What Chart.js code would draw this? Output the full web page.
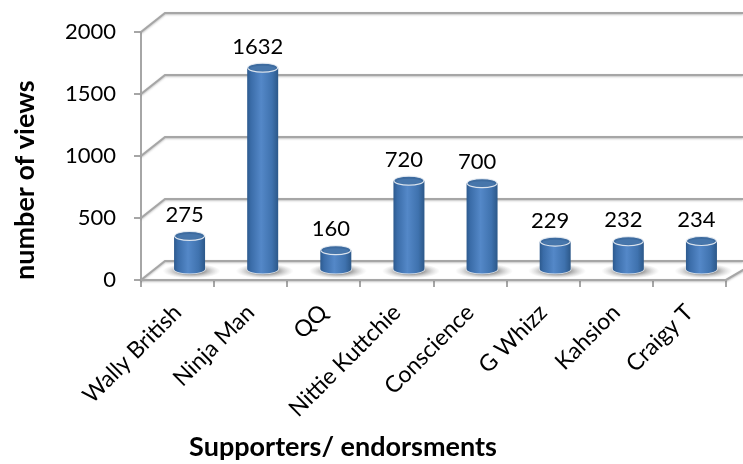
<!DOCTYPE html>
<html><head><meta charset="utf-8">
<style>html,body{margin:0;padding:0;background:#fff;overflow:hidden}canvas{display:block}</style>
<script src="https://cdn.jsdelivr.net/npm/chart.js@4"></script></head>
<body><canvas id="c" width="743" height="464"></canvas>
<script>
const categories = ["Wally British","Ninja Man","QQ","Nittie Kuttchie","Conscience","G Whizz","Kahsion","Craigy T"];
const views = [275,1632,160,720,700,229,232,234];
const yTicks = [0,500,1000,1500,2000];
const yTitle = "number of views";
const xTitle = "Supporters/ endorsments";
const FONT = "Lato, Carlito, sans-serif";
const DX = 24, DY = 19, GRID = "#a6a6a6", RX = 15.5, RY = 4.5;

function barGradient(ctx, cx){
  const g = ctx.createLinearGradient(cx-RX,0,cx+RX,0);
  g.addColorStop(0,"#2d5a8e");g.addColorStop(.12,"#3a6ca8");g.addColorStop(.45,"#5488c8");
  g.addColorStop(.8,"#3f72ae");g.addColorStop(1,"#2c5889");
  return g;
}
const wall3d = {
  id:"wall3d",
  beforeDatasetsDraw(chart){
    const {ctx,scales:{x,y},chartArea:a}=chart;
    ctx.save();
    ctx.strokeStyle=GRID;ctx.lineWidth=2.2;
    ctx.shadowColor="rgba(120,120,120,.45)";ctx.shadowBlur=2;ctx.shadowOffsetY=1;
    yTicks.forEach(v=>{
      const p=y.getPixelForValue(v);
      ctx.beginPath();ctx.moveTo(a.left,p);ctx.lineTo(a.left+DX,p-DY);ctx.lineTo(743,p-DY);ctx.stroke();
    });
    ctx.beginPath();ctx.moveTo(a.left,a.bottom);ctx.lineTo(a.right,a.bottom);ctx.lineTo(a.right+DX,a.bottom-DY+5);ctx.stroke();
    ctx.shadowColor="transparent";
    views.forEach((v,i)=>{
      const cx=x.getPixelForValue(i)+12;
      ctx.save();ctx.translate(cx+2,a.bottom-9);ctx.scale(29,7.5);
      const r=ctx.createRadialGradient(0,0,.4,0,0,1);
      r.addColorStop(0,"rgba(125,125,125,.85)");r.addColorStop(1,"rgba(190,190,190,0)");
      ctx.fillStyle=r;ctx.beginPath();ctx.arc(0,0,1,0,Math.PI*2);ctx.fill();ctx.restore();
    });
    ctx.restore();
  },
  beforeDatasetDraw(chart){
    const {ctx}=chart;
    const meta=chart.getDatasetMeta(0);
    ctx.save();ctx.translate(12,-10);
    meta.data.forEach((b,i)=>{
      const cx=b.x;
      ctx.fillStyle=barGradient(ctx,cx);
      ctx.strokeStyle="rgba(235,240,245,.9)";ctx.lineWidth=1.5;
      ctx.beginPath();ctx.ellipse(cx,b.base,RX,RY,0,0,Math.PI*2);ctx.fill();ctx.stroke();
    });
  },
  afterDatasetDraw(chart){
    const {ctx}=chart;
    const meta=chart.getDatasetMeta(0);
    meta.data.forEach((b,i)=>{
      const cx=b.x;
      ctx.fillStyle=barGradient(ctx,cx);
      ctx.beginPath();ctx.ellipse(cx,b.base,RX,RY,0,0,Math.PI);ctx.fill();
      ctx.strokeStyle="rgba(235,240,245,.9)";ctx.lineWidth=1.2;
      ctx.beginPath();ctx.ellipse(cx,b.y,RX-.5,RY,0,0,Math.PI*2);
      ctx.fillStyle="#3d6b9f";ctx.fill();ctx.stroke();
      ctx.globalAlpha=.35;
      ctx.beginPath();ctx.ellipse(cx,b.y+.8,RX-3,RY-1.8,0,0,Math.PI*2);ctx.fillStyle="#5c8dc4";ctx.fill();
      ctx.globalAlpha=1;
    });
    ctx.restore();
    ctx.save();
    ctx.font="22px "+FONT;ctx.fillStyle="#000";ctx.textAlign="center";ctx.textBaseline="middle";
    meta.data.forEach((b,i)=>ctx.fillText(String(views[i]),b.x+7,b.y-10-22+1));
    ctx.restore();
  }
};
new Chart(document.getElementById("c"),{
  type:"bar",
  data:{labels:categories,datasets:[{label:yTitle,data:views,clip:false,
    barPercentage:.424,categoryPercentage:1,borderWidth:0,
    backgroundColor:c=>{
      const ch=c.chart;
      if(!ch.chartArea||c.dataIndex===undefined)return "#4f81bd";
      return barGradient(ch.ctx,ch.scales.x.getPixelForValue(c.dataIndex));
    }}]},
  options:{
    responsive:false,animation:false,devicePixelRatio:1,
    layout:{padding:{top:32,right:17,left:0,bottom:0}},
    plugins:{legend:{display:false},tooltip:{enabled:false}},
    scales:{
      x:{
        afterFit:s=>{
          s.height=184;
          if(!s._shifted){s._shifted=true;const o=s.drawTitle;
            s.drawTitle=function(){const c=this.ctx;c.save();c.translate(-90.5,0);o.call(this);c.restore();};}
        },
        grid:{drawOnChartArea:false,drawTicks:true,tickLength:7,color:GRID,lineWidth:2},
        border:{color:GRID,width:2},
        ticks:{color:"#000",font:{family:FONT,size:23},maxRotation:45,minRotation:45,autoSkip:false,padding:12},
        title:{display:true,text:xTitle,color:"#000",font:{family:FONT,size:27,weight:"bold"},padding:{top:0,bottom:1}}
      },
      y:{
        min:0,max:2000,afterFit:s=>{s.width=141},
        afterBuildTicks:s=>{s.ticks=yTicks.map(v=>({value:v}))},
        grid:{drawOnChartArea:false,drawTicks:true,tickLength:7,color:GRID,lineWidth:2},
        border:{color:GRID,width:2},
        ticks:{color:"#000",font:{family:FONT,size:22},padding:18,callback:v=>String(v)},
        title:{display:true,text:yTitle,align:"start",color:"#000",font:{family:FONT,size:27,weight:"bold"},padding:{top:9,bottom:0}}
      }
    }
  },
  plugins:[wall3d]
});
</script></body></html>
